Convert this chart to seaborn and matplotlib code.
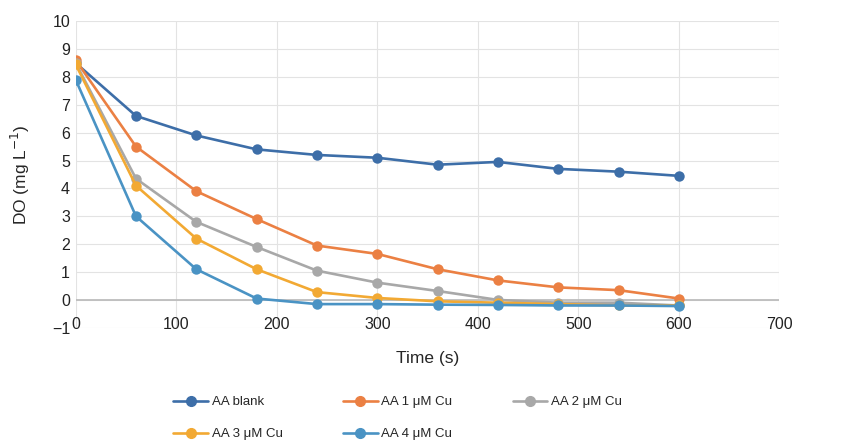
import pandas as pd
import matplotlib.pyplot as plt
import seaborn as sns

# time points (s)
time_s = [0, 60, 120, 180, 240, 300, 360, 420, 480, 540, 600]

# DO readings (mg/L)
do_blank = [8.5, 6.6, 5.9, 5.4, 5.2, 5.1, 4.85, 4.95, 4.7, 4.6, 4.45]
do_cu1 = [8.6, 5.5, 3.9, 2.9, 1.95, 1.65, 1.1, 0.7, 0.45, 0.35, 0.05]
do_cu2 = [8.5, 4.35, 2.8, 1.9, 1.05, 0.62, 0.32, 0.0, -0.1, -0.1, -0.2]
do_cu3 = [8.45, 4.1, 2.2, 1.1, 0.28, 0.07, -0.05, -0.1, -0.15, -0.2, -0.2]
do_cu4 = [7.9, 3.0, 1.1, 0.05, -0.15, -0.15, -0.17, -0.18, -0.2, -0.2, -0.22]

series_names = ["AA blank", "AA 1 μM Cu", "AA 2 μM Cu", "AA 3 μM Cu", "AA 4 μM Cu"]
series_colors = ["#3D6EA8", "#EB8043", "#A8A8A8", "#F2A933", "#4A93C4"]

# long-form table for seaborn
frames = []
for name, vals in zip(series_names, [do_blank, do_cu1, do_cu2, do_cu3, do_cu4]):
    frames.append(pd.DataFrame({"time": time_s, "do": vals, "series": name}))
df = pd.concat(frames, ignore_index=True)

sns.set_style("white")
plt.rcParams["font.family"] = ["Liberation Sans", "DejaVu Sans"]

fig = plt.figure(figsize=(8.5, 4.4), dpi=100)
ax = fig.add_axes([0.089, 0.255, 0.828, 0.697])

sns.lineplot(
    data=df, x="time", y="do", hue="series", hue_order=series_names,
    palette=series_colors, marker="o", markersize=7.5, markeredgewidth=0,
    linewidth=1.9, ax=ax, legend=False, zorder=3
)

ax.set_xlim(0, 700)
ax.set_ylim(-1, 10)
ax.set_xticks(range(0, 701, 100))
ax.set_yticks(range(-1, 11))
ax.set_yticklabels(["\u22121"] + [str(v) for v in range(0, 11)])
ax.grid(True, color="#E3E3E3", linewidth=0.8)
ax.set_axisbelow(True)
for s in ax.spines.values():
    s.set_visible(False)
# horizontal axis crosses at zero
ax.axhline(0, color="#BDBDBD", linewidth=1.3, zorder=2)

ax.tick_params(axis="both", length=0, labelsize=11.5, colors="#222222")
ax.tick_params(axis="x", pad=-8)
ax.tick_params(axis="y", pad=4)
ax.set_xlabel("Time (s)", fontsize=12.5, labelpad=14)
ax.set_ylabel("DO (mg L$^{-1}$)", fontsize=12.5, labelpad=14)

# legend: row-wise order with 3 columns
handles = [
    plt.Line2D([], [], color=c, marker="o", markersize=7, linewidth=1.9)
    for c in series_colors
]
order = [0, 3, 1, 4, 2]
fig.legend(
    [handles[i] for i in order], [series_names[i] for i in order],
    ncol=3, loc="lower left", bbox_to_anchor=(0.19, -0.028),
    frameon=False, fontsize=9.5, handlelength=2.6, handletextpad=0.3,
    columnspacing=4.6, labelspacing=1.5
)

fig.savefig("out.png", dpi=100, facecolor="white")
